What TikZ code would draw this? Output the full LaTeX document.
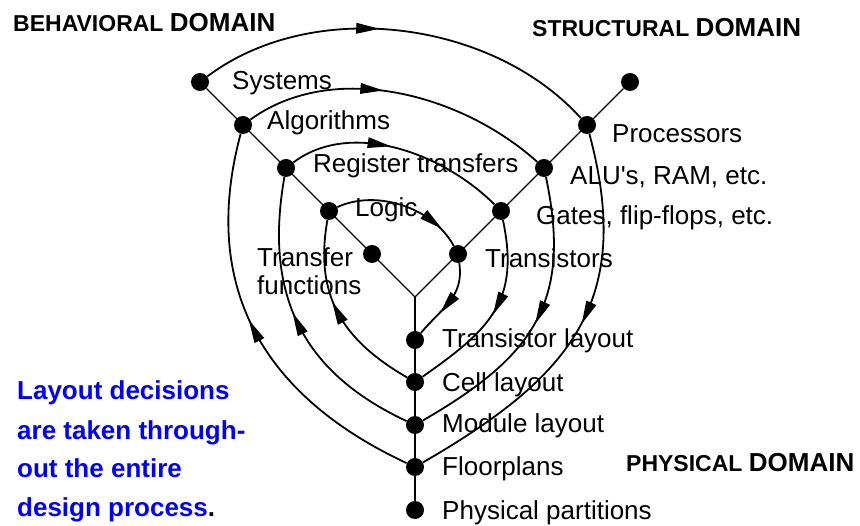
\documentclass[tikz,border=0pt]{standalone}
\usepackage{fontspec}
\newfontfamily\labfont{Liberation Sans}
\usetikzlibrary{calc}
\begin{document}
\begin{tikzpicture}[x=1pt,y=1pt,
  dot/.style={circle,fill=black,inner sep=0pt,minimum size=18pt},
  axis/.style={line width=1.2pt},
  arc/.style={line width=1.8pt},
  lab/.style={anchor=base west,inner sep=0pt,font=\labfont\fontsize{26}{28}\selectfont},
  ttl/.style={anchor=base west,inner sep=0pt,font=\labfont\bfseries\fontsize{23}{28}\selectfont},
  note/.style={anchor=base west,inner sep=0pt,text=blue,font=\labfont\bfseries\fontsize{26}{30}\selectfont}
]
\path[use as bounding box] (0,0) rectangle (860,-526);
\coordinate (c) at (415,-297);
% behavioral axis
\node[dot] (b1) at (200,-82) {};
\node[dot] (b2) at (243,-125) {};
\node[dot] (b3) at (286,-168) {};
\node[dot] (b4) at (329,-211) {};
\node[dot] (b5) at (372,-254) {};
% structural axis
\node[dot] (s1) at (630,-82) {};
\node[dot] (s2) at (587,-125) {};
\node[dot] (s3) at (544,-168) {};
\node[dot] (s4) at (501,-211) {};
\node[dot] (s5) at (458,-254) {};
% physical axis
\node[dot] (p1) at (415,-340) {};
\node[dot] (p2) at (415,-382) {};
\node[dot] (p3) at (415,-425) {};
\node[dot] (p4) at (415,-467) {};
\node[dot] (p5) at (415,-510) {};
\draw[axis] (c) -- (b1);
\draw[axis] (c) -- (s1);
\draw[axis] (c) -- (p5);
% spiral (m = arrow centre, n = point just after it, giving the direction)
\draw[arc] (b1) to[out=37,in=132,looseness=0.9] coordinate[pos=0.42] (m1) coordinate[pos=0.43] (n1) (s2);
\draw[arc] (s2) to[out=-75,in=30,looseness=1.2] coordinate[pos=0.45] (m2) coordinate[pos=0.46] (n2) (p4);
\draw[arc] (p4) to[out=155,in=-105,looseness=1.1] coordinate[pos=0.5] (m3) coordinate[pos=0.51] (n3) (b2);
\draw[arc] (b2) to[out=36,in=138,looseness=0.9] coordinate[pos=0.42] (m4) coordinate[pos=0.43] (n4) (s3);
\draw[arc] (s3) to[out=-78,in=30,looseness=1.2] coordinate[pos=0.46] (m5) coordinate[pos=0.47] (n5) (p3);
\draw[arc] (p3) to[out=155,in=-100,looseness=1.1] coordinate[pos=0.5] (m6) coordinate[pos=0.51] (n6) (b3);
\draw[arc] (b3) to[out=37,in=135,looseness=0.9] coordinate[pos=0.42] (m7) coordinate[pos=0.43] (n7) (s4);
\draw[arc] (s4) to[out=-78,in=35,looseness=1.2] coordinate[pos=0.45] (m8) coordinate[pos=0.46] (n8) (p2);
\draw[arc] (p2) to[out=150,in=-100,looseness=1.1] coordinate[pos=0.5] (m9) coordinate[pos=0.51] (n9) (b4);
\draw[arc] (b4) to[out=25,in=118,looseness=0.9] coordinate[pos=0.75] (m10) coordinate[pos=0.76] (n10) (s5);
\draw[arc] (s5) to[out=-82,in=50,looseness=1.1] coordinate[pos=0.55] (m11) coordinate[pos=0.56] (n11) (p1);
% arrowheads
\foreach \k in {1,...,11}{
  \coordinate (tp\k) at ($(m\k)!12pt!(n\k)$);
  \coordinate (bs\k) at ($(m\k)!-11pt!(n\k)$);
  \fill (tp\k) -- ($(bs\k)!5.5pt!90:(tp\k)$) -- ($(bs\k)!5.5pt!-90:(tp\k)$) -- cycle;
}
% labels
\node[lab] (lsys) at (232,-90) {Systems};
\node[lab] (lalg) at (267,-130) {Algorithms};
\node[lab] (lrt) at (313,-173) {Register transfers};
\node[lab] (llog) at (355,-217) {Logic};
\node[lab,align=left] (ltf) at (257,-295) {Transfer\\functions};
\node[lab] (lpro) at (612,-143) {Processors};
\node[lab] (lalu) at (570,-185) {ALU's, RAM, etc.};
\node[lab] (lgat) at (536,-225) {Gates, flip-flops, etc.};
\node[lab] (ltra) at (485,-268) {Transistors};
\node[lab] (ltl) at (442,-348) {Transistor layout};
\node[lab] (lcl) at (442,-392) {Cell layout};
\node[lab] (lml) at (442,-433) {Module layout};
\node[lab] (lfp) at (442,-476) {Floorplans};
\node[lab] (lpp) at (442,-520) {Physical partitions};
% titles
\node[ttl] (tb) at (13,-32) {BEHAVIORAL {\fontsize{26}{28}\selectfont DOMAIN}};
\node[ttl] (ts) at (532,-37) {STRUCTURAL {\fontsize{26}{28}\selectfont DOMAIN}};
\node[ttl] (tp) at (626,-472) {PHYSICAL {\fontsize{26}{28}\selectfont DOMAIN}};
% note
\node[note] (n1) at (17,-400) {Layout decisions};
\node[note] (n2) at (17,-440) {are taken through-};
\node[note] (n3) at (17,-478) {out the entire};
\node[note] (n4) at (17,-517) {design process\textcolor{black}{.}};
\end{tikzpicture}
\end{document}
